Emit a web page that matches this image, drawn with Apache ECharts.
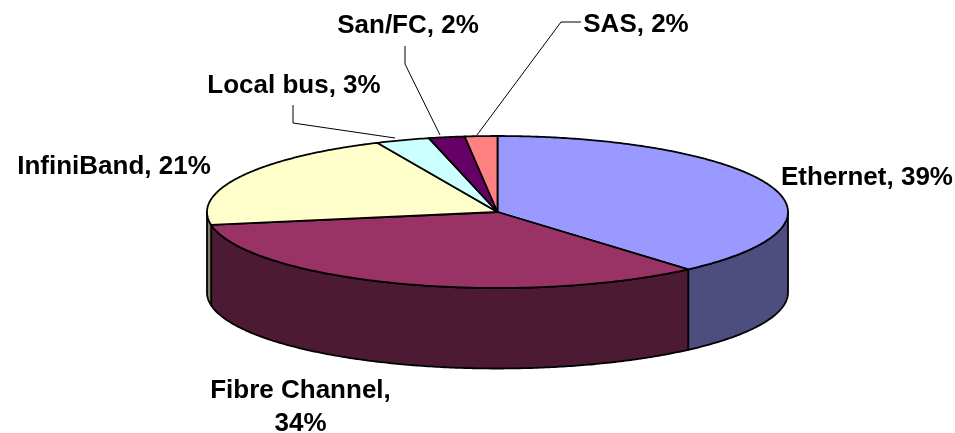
<!DOCTYPE html>
<html>
<head>
<meta charset="utf-8">
<style>html,body{margin:0;padding:0;background:#fff}#c{width:955px;height:433px}</style>
<script src="https://cdn.jsdelivr.net/npm/echarts@6/dist/echarts.min.js"></script>
</head>
<body>
<div id="c"></div>
<script>
const categories = ['Ethernet', 'Fibre Channel', 'InfiniBand', 'Local bus', 'San/FC', 'SAS'];
const shares = [38.6, 33.7, 20.9, 3.0, 2.0, 1.8];

const topColors = ['#9999FF', '#993366', '#FFFFCC', '#CCFFFF', '#660066', '#FF8080'];
const sideColors = ['#4D4D80', '#4D1A33', '#808066', '#668080', '#330033', '#804040'];

// Label placement: text centre and optional leader polyline.
const labelLayout = [
  { x: 867, y: 178 },
  { x: 300.5, y: 390, lines: 2 },
  { x: 114, y: 167 },
  { x: 294, y: 86, leader: [[293, 105], [293, 123], [395, 138]] },
  { x: 408, y: 26, leader: [[405, 46], [405, 64], [440, 135]] },
  { x: 636, y: 25, leader: [[581, 22], [561, 22], [477, 135]] }
];

const pie = { cx: 497.5, cy: 212, rx: 290.5, ry: 76, depth: 80.5 };
const total = shares.reduce((a, b) => a + b, 0);
const startAngles = [];
shares.reduce((acc, v, i) => { startAngles[i] = acc; return acc + v; }, 0);

function rad(pct) { return pct / total * 2 * Math.PI; }
function pt(a, dy) {
  return [pie.cx + pie.rx * Math.sin(a), pie.cy - pie.ry * Math.cos(a) + (dy || 0)];
}
function arc(a0, a1, dy) {
  const n = Math.max(2, Math.ceil(Math.abs(a1 - a0) / 0.01));
  const out = [];
  for (let k = 0; k <= n; k++) out.push(pt(a0 + (a1 - a0) * k / n, dy));
  return out;
}
const outline = { stroke: '#000', lineWidth: 1.8, lineJoin: 'round' };

function renderSide(params, api) {
  const i = params.dataIndex;
  const a0 = Math.max(rad(startAngles[i]), Math.PI / 2);
  const a1 = Math.min(rad(startAngles[i] + api.value(0)), 3 * Math.PI / 2);
  if (a1 <= a0) return { type: 'group', children: [] };
  const points = arc(a0, a1, 0).concat(arc(a1, a0, pie.depth));
  return { type: 'polygon', shape: { points }, style: Object.assign({ fill: sideColors[i] }, outline) };
}
function renderTop(params, api) {
  const i = params.dataIndex;
  const a0 = rad(startAngles[i]);
  const a1 = rad(startAngles[i] + api.value(0));
  const points = [[pie.cx, pie.cy]].concat(arc(a0, a1, 0));
  return { type: 'polygon', shape: { points }, style: Object.assign({ fill: topColors[i] }, outline) };
}
function renderLabel(params, api) {
  const i = params.dataIndex;
  const l = labelLayout[i];
  const pct = Math.round(api.value(0)) + '%';
  const text = categories[i] + ',' + (l.lines === 2 ? '\n' : ' ') + pct;
  const children = [{
    type: 'text',
    style: {
      text, x: l.x, y: l.y, align: 'center', verticalAlign: l.lines === 2 ? 'top' : 'middle',
      font: 'bold 26px "Liberation Sans", Arial, sans-serif', lineHeight: 33, fill: '#000'
    }
  }];
  if (l.lines === 2) children[0].style.y = l.y - 16;
  if (l.leader) children.push({
    type: 'polyline', shape: { points: l.leader },
    style: { stroke: '#000', lineWidth: 1, fill: null }
  });
  return { type: 'group', children };
}

const data = shares.map((v, i) => ({ name: categories[i], value: [v] }));
const base = { type: 'custom', coordinateSystem: 'none', silent: true, animation: false, clip: false, data };
const chart = echarts.init(document.getElementById('c'), null, { renderer: 'canvas' });
chart.setOption({
  backgroundColor: '#fff',
  animation: false,
  series: [
    Object.assign({}, base, { z: 1, renderItem: renderSide }),
    Object.assign({}, base, { z: 2, renderItem: renderTop }),
    Object.assign({}, base, { z: 3, renderItem: renderLabel })
  ]
});
</script>
</body>
</html>
